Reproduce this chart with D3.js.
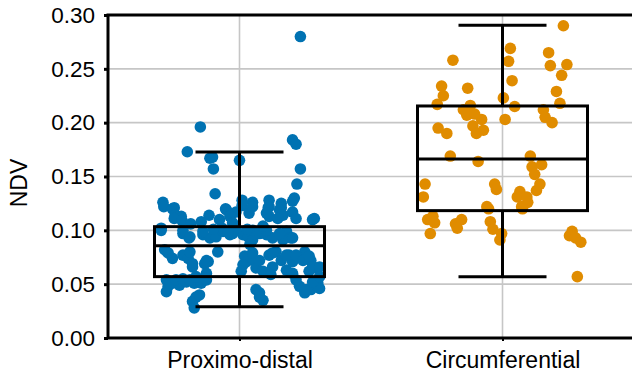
<!DOCTYPE html>
<html>
<head>
<meta charset="utf-8">
<script src="https://cdn.jsdelivr.net/npm/d3@7"></script>
<style>
  body { margin: 0; background: #fff; }
  text { font-family: "Liberation Sans", Arial, sans-serif; fill: #000; }
</style>
</head>
<body>
<svg id="chart" width="632" height="372"></svg>
<script>
// categories and tick values
const categories = ['Proximo-distal', 'Circumferential'];
const yTicks = [0, 0.05, 0.10, 0.15, 0.20, 0.25, 0.30];

// box plot stats, one entry per category
const whiskerLow = [0.0291, 0.0570];
const q1 = [0.0570, 0.1183];
const median = [0.0857, 0.1663];
const q3 = [0.1034, 0.2155];
const whiskerHigh = [0.1728, 0.2904];

// points: jitter (-1..1 across the cloud) and NDV value
const proximoJitter = [
  0.70, -0.45, -0.60, -0.34, -0.31, -0.30, 0.00, -0.28, -0.88, -0.87, -0.75, -0.67,
  0.61, 0.65, 0.70, 0.66, 0.63, 0.61, 0.15, 0.34, 0.34, 0.48, 0.48, 0.03, 0.03,
  -0.16, -0.35, 0.86, -0.77, -0.74, -0.75, -0.66, -0.56, -0.44, -0.23, -0.15, -0.10,
  -0.04, -0.90, -0.65, -0.58, -0.42, -0.34, -0.27, -0.19, -0.11, -0.04, -0.86, -0.82,
  -0.77, -0.65, -0.59, -0.57, -0.54, -0.40, -0.36, -0.25, -0.84, -0.82, -0.84, -0.77,
  -0.69, -0.61, -0.52, -0.44, -0.38, -0.50, -0.54, -0.52, -0.46, 0.11, 0.15, 0.33,
  0.34, 0.46, 0.50, 0.44, 0.04, 0.10, 0.15, 0.31, 0.38, 0.54, 0.59, 0.50, 0.06,
  0.08, 0.17, 0.19, 0.27, 0.34, 0.42, 0.48, 0.38, 0.36, 0.57, 0.61, 0.75, 0.82,
  0.88, 0.80, 0.54, 0.61, 0.69, 0.75, 0.82, 0.90, 0.92, 0.23, 0.27, 0.04, 0.02,
  -0.11, -0.08, 0.31, 0.61, 0.65, 0.84, -0.90, -0.65, -0.57, -0.42, -0.08, 0.15,
  0.23, 0.31, 0.46, 0.61, -0.54, -0.38, 0.15, 0.23, 0.38, 0.54, 0.65, 0.73, 0.80,
  0.84, 0.92, -0.80, -0.73, -0.65, -0.57, -0.50, -0.38, 0.19, 0.23, 0.65, 0.77,
  0.84, 0.92, -0.20, -0.13, 0.09, 0.27, -0.30, 0.12
];
const proximoValues = [
  0.280, 0.196, 0.173, 0.167, 0.168, 0.157, 0.165, 0.134, 0.126, 0.122, 0.121, 0.113,
  0.184, 0.180, 0.157, 0.143, 0.130, 0.127, 0.126, 0.128, 0.122, 0.125, 0.121, 0.128, 0.123,
  0.120, 0.114, 0.111, 0.120, 0.114, 0.111, 0.109, 0.106, 0.108, 0.110, 0.119, 0.114,
  0.117, 0.100, 0.097, 0.093, 0.096, 0.093, 0.094, 0.099, 0.096, 0.102, 0.082, 0.079,
  0.074, 0.077, 0.074, 0.080, 0.066, 0.069, 0.071, 0.080, 0.054, 0.048, 0.043, 0.051,
  0.049, 0.052, 0.051, 0.051, 0.054, 0.038, 0.034, 0.028, 0.040, 0.116, 0.122, 0.121,
  0.113, 0.119, 0.114, 0.111, 0.096, 0.094, 0.091, 0.096, 0.093, 0.099, 0.093, 0.091, 0.076,
  0.071, 0.072, 0.065, 0.062, 0.077, 0.080, 0.072, 0.066, 0.059, 0.077, 0.071, 0.080, 0.072,
  0.065, 0.062, 0.063, 0.060, 0.048, 0.042, 0.045, 0.051, 0.046, 0.042, 0.035, 0.068, 0.062,
  0.113, 0.107, 0.116, 0.117, 0.111, 0.110, 0.102, 0.100, 0.094, 0.099, 0.097, 0.100,
  0.097, 0.100, 0.097, 0.093, 0.069, 0.072, 0.079, 0.072, 0.079, 0.077, 0.077, 0.072, 0.076,
  0.066, 0.066, 0.051, 0.054, 0.055, 0.054, 0.057, 0.060, 0.045, 0.038, 0.054, 0.045,
  0.052, 0.057, 0.102, 0.098, 0.101, 0.104, 0.101, 0.087
];

const circJitter = [
  0.70, 0.09, -0.57, 0.53, 0.07, 0.55, 0.74, 0.68, 0.11, -0.70, -0.68, -0.40, 0.62,
  0.01, -0.75, -0.37, 0.66, 0.14, -0.45, -0.41, -0.32, -0.24, 0.47, 0.49, 0.57, 0.03,
  -0.74, -0.34, -0.22, -0.64, -0.30, -0.60, -0.28, 0.32, 0.34, 0.45, 0.37, -0.89, -0.09,
  -0.07, 0.43, 0.39, -0.91, 0.20, 0.17, 0.28, 0.29, 0.22, 0.23, -0.18, -0.16, -0.86,
  -0.80, -0.78, -0.83, -0.54, -0.47, -0.52, -0.14, -0.11, -0.01, -0.03, 0.80, 0.77,
  0.84, 0.90, 0.86
];
const circValues = [
  0.290, 0.269, 0.258, 0.265, 0.257, 0.253, 0.254, 0.244, 0.239, 0.234, 0.225, 0.232, 0.229,
  0.223, 0.217, 0.216, 0.218, 0.215, 0.212, 0.207, 0.208, 0.203, 0.212, 0.205, 0.200, 0.203,
  0.195, 0.197, 0.193, 0.190, 0.190, 0.169, 0.164, 0.169, 0.159, 0.161, 0.152, 0.143, 0.143,
  0.138, 0.143, 0.137, 0.131, 0.136, 0.131, 0.131, 0.126, 0.122, 0.120, 0.122, 0.120, 0.110,
  0.113, 0.107, 0.097, 0.106, 0.110, 0.102, 0.108, 0.101, 0.097, 0.091, 0.099, 0.095,
  0.093, 0.089, 0.057
];

const colors = ['#0072B2', '#E08C00'];

const svg = d3.select('#chart');
const margin = {top: 15, right: -2, bottom: 34, left: 108};
const W = 632, H = 372;

const x = d3.scalePoint()
    .domain(categories)
    .range([margin.left, W - margin.right])
    .padding(0.5);
const y = d3.scaleLinear()
    .domain([0, 0.30])
    .range([H - margin.bottom, margin.top]);
const jitter = d3.scaleLinear()
    .domain([-1, 1])
    .range([-87, 87]);

// grid
svg.append('g')
  .selectAll('line.h')
  .data(yTicks.slice(1, -1))
  .enter().append('line')
    .attr('x1', margin.left).attr('x2', W - margin.right)
    .attr('y1', d => y(d)).attr('y2', d => y(d))
    .attr('stroke', '#c6c6c6').attr('stroke-width', 1.6);
svg.append('g')
  .selectAll('line.v')
  .data(categories)
  .enter().append('line')
    .attr('x1', d => x(d)).attr('x2', d => x(d))
    .attr('y1', margin.top).attr('y2', H - margin.bottom)
    .attr('stroke', '#c6c6c6').attr('stroke-width', 1.6);

// points
const series = [
  {cat: categories[0], j: proximoJitter, v: proximoValues},
  {cat: categories[1], j: circJitter, v: circValues}
];
series.forEach((s, k) => {
  svg.append('g')
    .selectAll('circle')
    .data(s.v)
    .enter().append('circle')
      .attr('cx', (d, i) => x(s.cat) + jitter(s.j[i]))
      .attr('cy', d => y(d))
      .attr('r', 5.8)
      .attr('fill', colors[k]);
});

// boxes
const boxHalf = 85, capHalf = 44;
categories.forEach((c, k) => {
  const g = svg.append('g')
    .attr('stroke', '#000').attr('stroke-width', 3).attr('fill', 'none');
  g.append('line')
    .attr('x1', x(c)).attr('x2', x(c))
    .attr('y1', y(whiskerLow[k])).attr('y2', y(q1[k]));
  g.append('line')
    .attr('x1', x(c)).attr('x2', x(c))
    .attr('y1', y(q3[k])).attr('y2', y(whiskerHigh[k]));
  [whiskerLow[k], whiskerHigh[k]].forEach(v => {
    g.append('line')
      .attr('x1', x(c) - capHalf).attr('x2', x(c) + capHalf)
      .attr('y1', y(v)).attr('y2', y(v));
  });
  g.append('rect')
    .attr('x', x(c) - boxHalf).attr('width', boxHalf * 2)
    .attr('y', y(q3[k])).attr('height', y(q1[k]) - y(q3[k]));
  g.append('line')
    .attr('x1', x(c) - boxHalf).attr('x2', x(c) + boxHalf)
    .attr('y1', y(median[k])).attr('y2', y(median[k]));
});

// frame
svg.append('rect')
  .attr('x', margin.left).attr('y', margin.top)
  .attr('width', W - margin.right - margin.left)
  .attr('height', H - margin.bottom - margin.top)
  .attr('fill', 'none').attr('stroke', '#000').attr('stroke-width', 3);

// axes
const yAxis = svg.append('g')
  .attr('transform', 'translate(' + margin.left + ',0)')
  .call(d3.axisLeft(y).tickValues(yTicks).tickFormat(d3.format('.2f'))
        .tickSize(4).tickSizeOuter(0).tickPadding(9));
yAxis.select('.domain').remove();
yAxis.selectAll('line').attr('stroke-width', 3);
yAxis.selectAll('text').style('font-size', '22.5px');

const xAxis = svg.append('g')
  .attr('transform', 'translate(0,' + (H - margin.bottom) + ')')
  .call(d3.axisBottom(x).tickSize(3).tickSizeOuter(0).tickPadding(11));
xAxis.select('.domain').remove();
xAxis.selectAll('line').attr('stroke-width', 2);
xAxis.selectAll('text').style('font-size', '23px');

svg.append('text')
  .attr('transform', 'translate(27,183) rotate(-90)')
  .attr('text-anchor', 'middle')
  .style('font-size', '23px')
  .text('NDV');
</script>
</body>
</html>
